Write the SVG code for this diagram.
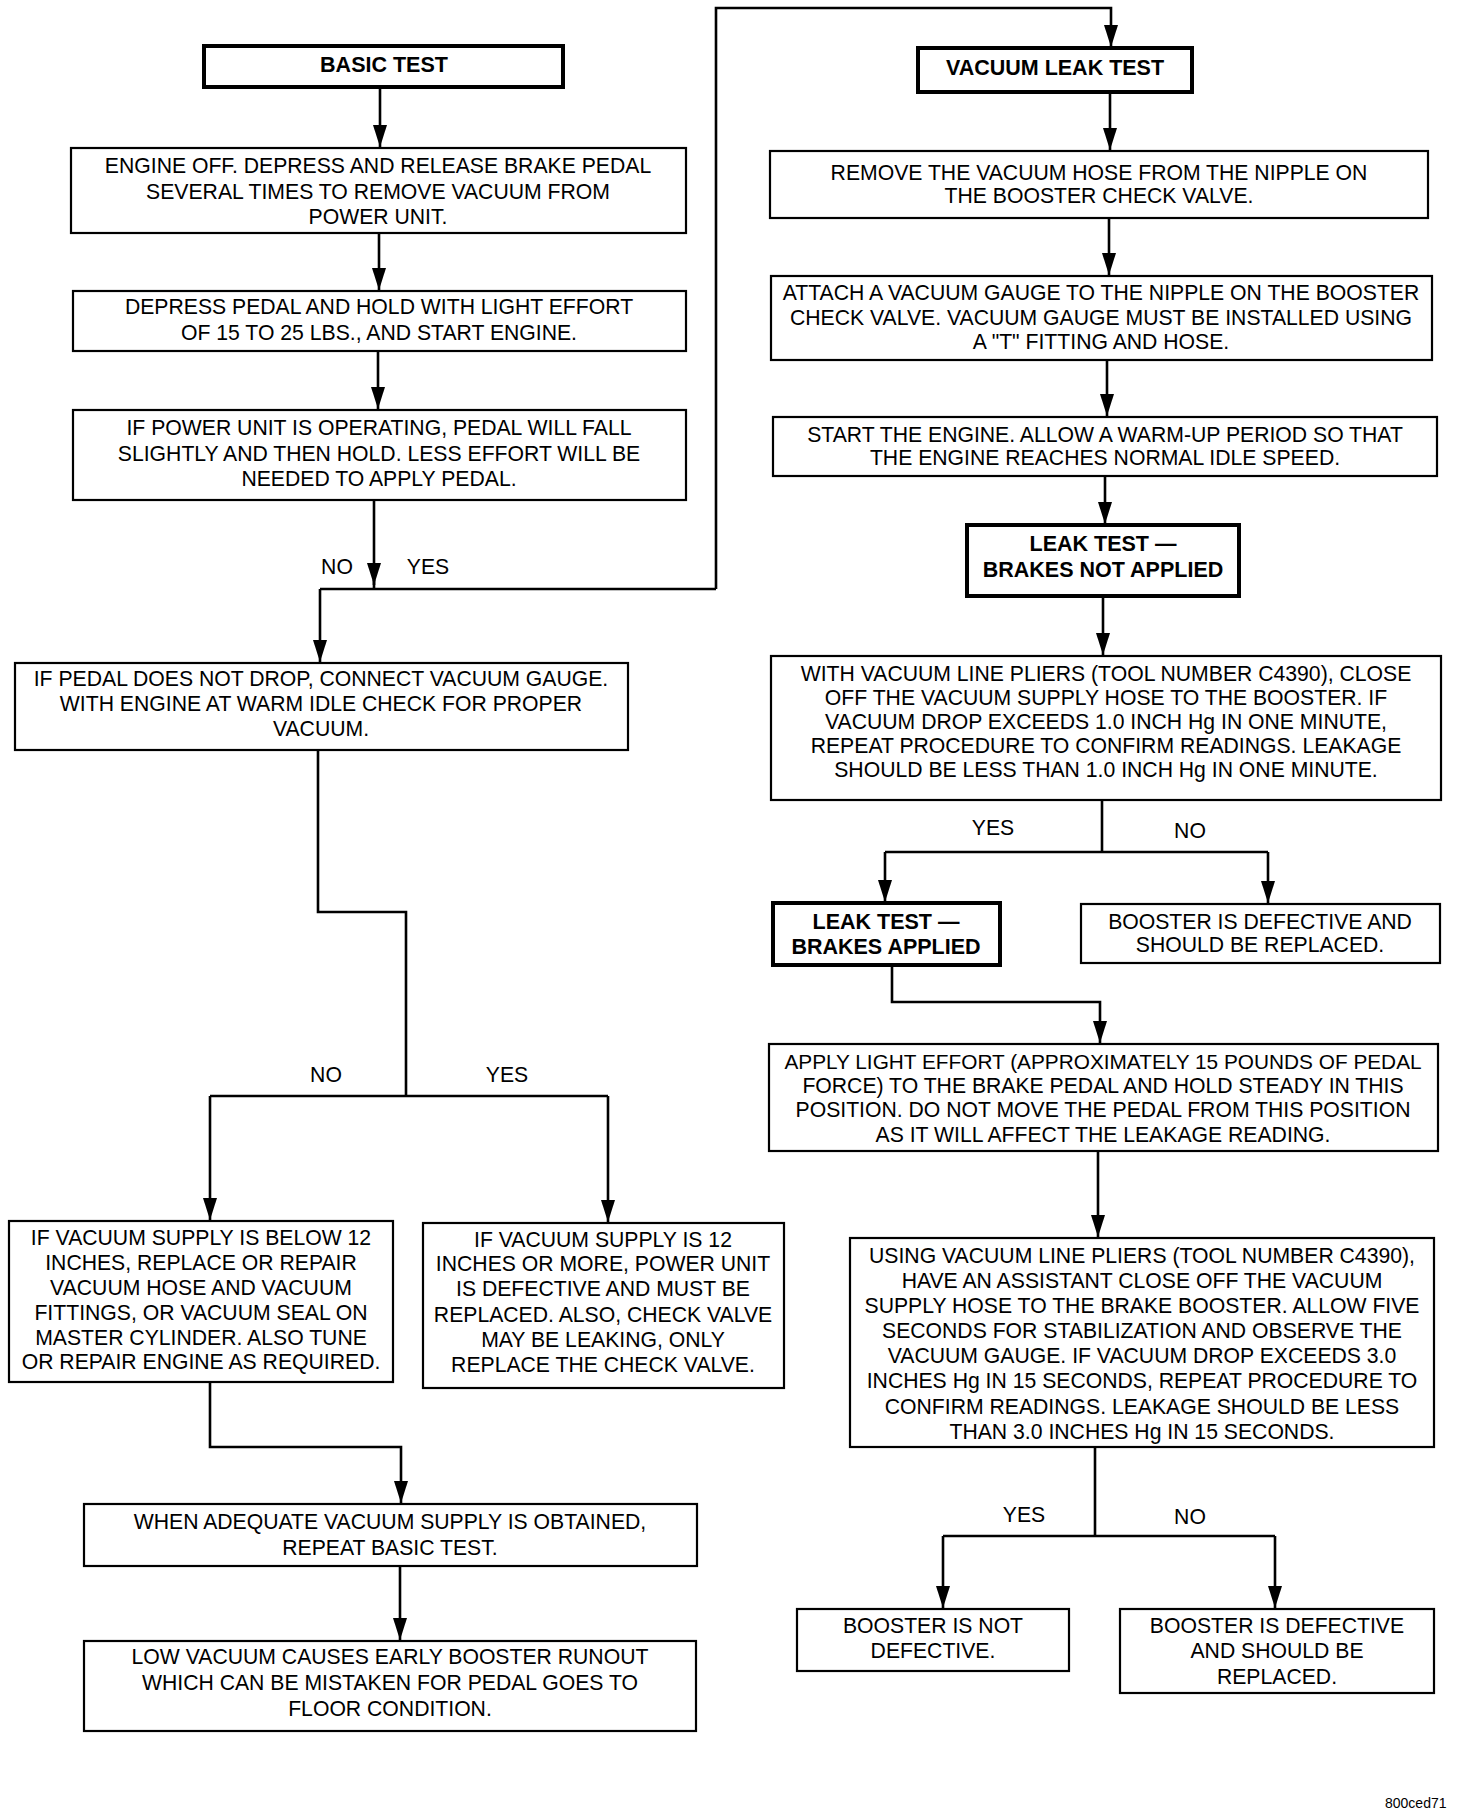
<svg xmlns="http://www.w3.org/2000/svg" width="1472" height="1814" viewBox="0 0 1472 1814">
<defs>
<style>
.b{fill:#fff;stroke:#000;stroke-width:2.2}
.tb{fill:#fff;stroke:#000;stroke-width:4}
text{font-family:"Liberation Sans",Arial,sans-serif;font-size:21.2px;fill:#000;text-anchor:middle}
.bold{font-weight:bold;font-size:21.5px}
.lbl{font-size:21.2px}
.c{fill:none;stroke:#000;stroke-width:2.6}
.foot{font-size:14px;text-anchor:start}
</style>
<marker id="arr" markerUnits="userSpaceOnUse" markerWidth="22" markerHeight="14" viewBox="0 -7 22 14" refX="22" refY="0" orient="auto">
<path d="M0,-7 L22,0 L0,7 z" fill="#000"/>
</marker>
</defs>
<rect width="1472" height="1814" fill="#fff"/>
<g id="connectors">
<path class="c" d="M380,87 V147" marker-end="url(#arr)"/>
<path class="c" d="M379,233 V290" marker-end="url(#arr)"/>
<path class="c" d="M378,350 V409" marker-end="url(#arr)"/>
<path class="c" d="M374,499 V585" marker-end="url(#arr)"/>
<path class="c" d="M374,580 V589"/>
<path class="c" d="M320,589 H716"/>
<path class="c" d="M320,589 V662" marker-end="url(#arr)"/>
<path class="c" d="M716,589 V8 H1111 V47" marker-end="url(#arr)"/>
<path class="c" d="M1110,92 V150" marker-end="url(#arr)"/>
<path class="c" d="M1109,218 V275" marker-end="url(#arr)"/>
<path class="c" d="M1107,360 V416" marker-end="url(#arr)"/>
<path class="c" d="M1105,476 V524" marker-end="url(#arr)"/>
<path class="c" d="M1103,597 V655" marker-end="url(#arr)"/>
<path class="c" d="M1102,800 V852"/>
<path class="c" d="M885,852 H1268"/>
<path class="c" d="M885,852 V902" marker-end="url(#arr)"/>
<path class="c" d="M1268,852 V903" marker-end="url(#arr)"/>
<path class="c" d="M892,965 V1002 H1100 V1043" marker-end="url(#arr)"/>
<path class="c" d="M1098,1151 V1237" marker-end="url(#arr)"/>
<path class="c" d="M1095,1447 V1536"/>
<path class="c" d="M943,1536 H1275"/>
<path class="c" d="M943,1536 V1608" marker-end="url(#arr)"/>
<path class="c" d="M1275,1536 V1608" marker-end="url(#arr)"/>
<path class="c" d="M318,749 V912 H406 V1096"/>
<path class="c" d="M210,1096 H608"/>
<path class="c" d="M210,1096 V1220" marker-end="url(#arr)"/>
<path class="c" d="M608,1096 V1222" marker-end="url(#arr)"/>
<path class="c" d="M210,1382 V1447 H401 V1503" marker-end="url(#arr)"/>
<path class="c" d="M400,1566 V1640" marker-end="url(#arr)"/>
<text class="lbl" x="337" y="574">NO</text>
<text class="lbl" x="428" y="574">YES</text>
<text class="lbl" x="326" y="1082">NO</text>
<text class="lbl" x="507" y="1082">YES</text>
<text class="lbl" x="993" y="835">YES</text>
<text class="lbl" x="1190" y="838">NO</text>
<text class="lbl" x="1024" y="1522">YES</text>
<text class="lbl" x="1190" y="1524">NO</text>
</g>
<g id="basic-test">
<rect class="tb" x="204" y="46" width="359" height="41"/>
<text class="bold" x="384" y="72">BASIC TEST</text>
</g>
<g id="engine-off">
<rect class="b" x="71" y="148" width="615" height="85"/>
<text x="378" y="173">ENGINE OFF. DEPRESS AND RELEASE BRAKE PEDAL</text>
<text x="378" y="199">SEVERAL TIMES TO REMOVE VACUUM FROM</text>
<text x="378" y="224">POWER UNIT.</text>
</g>
<g id="depress-pedal">
<rect class="b" x="73" y="291" width="613" height="60"/>
<text x="379" y="314">DEPRESS PEDAL AND HOLD WITH LIGHT EFFORT</text>
<text x="379" y="340">OF 15 TO 25 LBS., AND START ENGINE.</text>
</g>
<g id="power-unit-operating">
<rect class="b" x="73" y="410" width="613" height="90"/>
<text x="379" y="435">IF POWER UNIT IS OPERATING, PEDAL WILL FALL</text>
<text x="379" y="461">SLIGHTLY AND THEN HOLD. LESS EFFORT WILL BE</text>
<text x="379" y="486">NEEDED TO APPLY PEDAL.</text>
</g>
<g id="pedal-not-drop">
<rect class="b" x="15" y="663" width="613" height="87"/>
<text x="321" y="686">IF PEDAL DOES NOT DROP, CONNECT VACUUM GAUGE.</text>
<text x="321" y="711">WITH ENGINE AT WARM IDLE CHECK FOR PROPER</text>
<text x="321" y="736">VACUUM.</text>
</g>
<g id="below-12">
<rect class="b" x="9" y="1221" width="384" height="161"/>
<text x="201" y="1245">IF VACUUM SUPPLY IS BELOW 12</text>
<text x="201" y="1270">INCHES, REPLACE OR REPAIR</text>
<text x="201" y="1295">VACUUM HOSE AND VACUUM</text>
<text x="201" y="1320">FITTINGS, OR VACUUM SEAL ON</text>
<text x="201" y="1345">MASTER CYLINDER. ALSO TUNE</text>
<text x="201" y="1369">OR REPAIR ENGINE AS REQUIRED.</text>
</g>
<g id="12-or-more">
<rect class="b" x="423" y="1223" width="361" height="165"/>
<text x="603" y="1247">IF VACUUM SUPPLY IS 12</text>
<text x="603" y="1271">INCHES OR MORE, POWER UNIT</text>
<text x="603" y="1296">IS DEFECTIVE AND MUST BE</text>
<text x="603" y="1322">REPLACED. ALSO, CHECK VALVE</text>
<text x="603" y="1347">MAY BE LEAKING, ONLY</text>
<text x="603" y="1372">REPLACE THE CHECK VALVE.</text>
</g>
<g id="adequate-vacuum">
<rect class="b" x="84" y="1504" width="613" height="62"/>
<text x="390" y="1529">WHEN ADEQUATE VACUUM SUPPLY IS OBTAINED,</text>
<text x="390" y="1555">REPEAT BASIC TEST.</text>
</g>
<g id="low-vacuum">
<rect class="b" x="84" y="1641" width="612" height="90"/>
<text x="390" y="1664">LOW VACUUM CAUSES EARLY BOOSTER RUNOUT</text>
<text x="390" y="1690">WHICH CAN BE MISTAKEN FOR PEDAL GOES TO</text>
<text x="390" y="1716">FLOOR CONDITION.</text>
</g>
<g id="vacuum-leak-test">
<rect class="tb" x="918" y="48" width="274" height="44"/>
<text class="bold" x="1055" y="75">VACUUM LEAK TEST</text>
</g>
<g id="remove-hose">
<rect class="b" x="770" y="151" width="658" height="67"/>
<text x="1099" y="180">REMOVE THE VACUUM HOSE FROM THE NIPPLE ON</text>
<text x="1099" y="203">THE BOOSTER CHECK VALVE.</text>
</g>
<g id="attach-gauge">
<rect class="b" x="771" y="276" width="661" height="84"/>
<text x="1101" y="300">ATTACH A VACUUM GAUGE TO THE NIPPLE ON THE BOOSTER</text>
<text x="1101" y="325">CHECK VALVE. VACUUM GAUGE MUST BE INSTALLED USING</text>
<text x="1101" y="349">A "T" FITTING AND HOSE.</text>
</g>
<g id="start-engine">
<rect class="b" x="773" y="417" width="664" height="59"/>
<text x="1105" y="442">START THE ENGINE. ALLOW A WARM-UP PERIOD SO THAT</text>
<text x="1105" y="465">THE ENGINE REACHES NORMAL IDLE SPEED.</text>
</g>
<g id="leak-test-not-applied">
<rect class="tb" x="967" y="525" width="272" height="71"/>
<text class="bold" x="1103" y="551">LEAK TEST —</text>
<text class="bold" x="1103" y="577">BRAKES NOT APPLIED</text>
</g>
<g id="close-off-supply">
<rect class="b" x="771" y="656" width="670" height="144"/>
<text x="1106" y="681">WITH VACUUM LINE PLIERS (TOOL NUMBER C4390), CLOSE</text>
<text x="1106" y="705">OFF THE VACUUM SUPPLY HOSE TO THE BOOSTER. IF</text>
<text x="1106" y="729">VACUUM DROP EXCEEDS 1.0 INCH Hg IN ONE MINUTE,</text>
<text x="1106" y="753">REPEAT PROCEDURE TO CONFIRM READINGS. LEAKAGE</text>
<text x="1106" y="777">SHOULD BE LESS THAN 1.0 INCH Hg IN ONE MINUTE.</text>
</g>
<g id="leak-test-applied">
<rect class="tb" x="773" y="903" width="227" height="62"/>
<text class="bold" x="886" y="929">LEAK TEST —</text>
<text class="bold" x="886" y="954">BRAKES APPLIED</text>
</g>
<g id="booster-defective-1">
<rect class="b" x="1081" y="904" width="359" height="59"/>
<text x="1260" y="929">BOOSTER IS DEFECTIVE AND</text>
<text x="1260" y="952">SHOULD BE REPLACED.</text>
</g>
<g id="apply-light-effort">
<rect class="b" x="769" y="1044" width="669" height="107"/>
<text x="1103" y="1069" style="font-size:20.8px">APPLY LIGHT EFFORT (APPROXIMATELY 15 POUNDS OF PEDAL</text>
<text x="1103" y="1093">FORCE) TO THE BRAKE PEDAL AND HOLD STEADY IN THIS</text>
<text x="1103" y="1117">POSITION. DO NOT MOVE THE PEDAL FROM THIS POSITION</text>
<text x="1103" y="1142">AS IT WILL AFFECT THE LEAKAGE READING.</text>
</g>
<g id="assistant-close-off">
<rect class="b" x="850" y="1238" width="584" height="209"/>
<text x="1142" y="1263">USING VACUUM LINE PLIERS (TOOL NUMBER C4390),</text>
<text x="1142" y="1288">HAVE AN ASSISTANT CLOSE OFF THE VACUUM</text>
<text x="1142" y="1313">SUPPLY HOSE TO THE BRAKE BOOSTER. ALLOW FIVE</text>
<text x="1142" y="1338">SECONDS FOR STABILIZATION AND OBSERVE THE</text>
<text x="1142" y="1363">VACUUM GAUGE. IF VACUUM DROP EXCEEDS 3.0</text>
<text x="1142" y="1388">INCHES Hg IN 15 SECONDS, REPEAT PROCEDURE TO</text>
<text x="1142" y="1414">CONFIRM READINGS. LEAKAGE SHOULD BE LESS</text>
<text x="1142" y="1439">THAN 3.0 INCHES Hg IN 15 SECONDS.</text>
</g>
<g id="booster-not-defective">
<rect class="b" x="797" y="1609" width="272" height="62"/>
<text x="933" y="1633">BOOSTER IS NOT</text>
<text x="933" y="1658">DEFECTIVE.</text>
</g>
<g id="booster-defective-2">
<rect class="b" x="1120" y="1609" width="314" height="84"/>
<text x="1277" y="1633">BOOSTER IS DEFECTIVE</text>
<text x="1277" y="1658">AND SHOULD BE</text>
<text x="1277" y="1684">REPLACED.</text>
</g>
<text class="foot" x="1385" y="1808">800ced71</text>
</svg>
